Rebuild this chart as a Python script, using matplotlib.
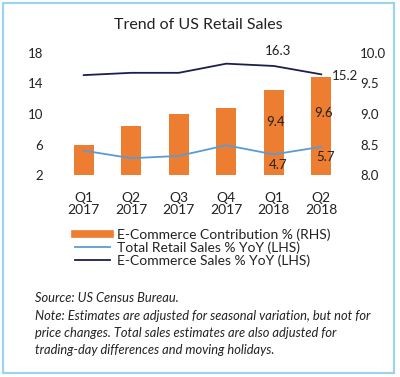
import matplotlib
matplotlib.use("Agg")
import matplotlib.pyplot as plt
from matplotlib.lines import Line2D
from matplotlib.patches import Rectangle

plt.rcParams['font.family'] = ['Lato', 'DejaVu Sans']

# data
quarters = ['Q1\n2017', 'Q2\n2017', 'Q3\n2017', 'Q4\n2017', 'Q1\n2018', 'Q2\n2018']
ecom_share = [8.5, 8.8, 9.0, 9.1, 9.4, 9.6]        # RHS, bars
retail_yoy = [5.2, 4.2, 4.5, 5.9, 4.7, 5.7]        # LHS
ecom_yoy = [15.1, 15.4, 15.4, 16.6, 16.3, 15.2]    # LHS
left_ticks = [2, 6, 10, 14, 18]
right_ticks = [8.0, 8.5, 9.0, 9.5, 10.0]

txt = '#222222'
fig = plt.figure(figsize=(4.0, 3.77), dpi=100)

# light blue frame round the whole thing
fig.add_artist(Rectangle((2.5/400, 4.5/377), 391.5/400, 370/377, transform=fig.transFigure,
                         fill=False, ec='#9dd3ef', lw=1.6))

ax = fig.add_axes([60/400, 1-175/377, 285/400, 122/377])
ax2 = ax.twinx()
ax.set_zorder(ax2.get_zorder() + 1)
ax.patch.set_visible(False)
ax2.patch.set_facecolor('#fbe3d4')

x = list(range(len(quarters)))
ax2.bar(x, ecom_share, width=0.42, color='#ed7d31', zorder=2)
ax.plot(x, retail_yoy, color='#5b9bd5', lw=1.3)
ax.plot(x, ecom_yoy, color='#1c1f4d', lw=1.3)

ax.set_xlim(-0.5, 5.5)
ax.set_ylim(2, 18)
ax.set_yticks(left_ticks)
ax2.set_ylim(8.0, 10.0)
ax2.set_yticks(right_ticks)
ax2.set_yticklabels(['%.1f' % v for v in right_ticks])
ax.set_xticks(x)
ax.set_xticklabels(quarters, linespacing=1.05)

for a in (ax, ax2):
    for s in a.spines.values():
        s.set_visible(False)
    a.tick_params(length=0, labelsize=9.5, colors=txt)
ax.tick_params(axis='y', pad=12)
ax2.tick_params(axis='y', pad=11)
ax.tick_params(axis='x', pad=12, labelsize=10)

# data labels
lab = dict(fontsize=9.5, color=txt, ha='center', va='center', textcoords='offset pixels')
ax.annotate('16.3', (4, ecom_yoy[4]), xytext=(4, 15), **lab)
ax.annotate('15.2', (5, ecom_yoy[5]), xytext=(24, -2), **lab)
ax.annotate('4.7', (4, retail_yoy[4]), xytext=(4, -11), **lab)
ax.annotate('5.7', (5, retail_yoy[5]), xytext=(4, -10), **lab)
ax2.annotate('9.4', (4, ecom_share[4]), xytext=(2, -32), **lab)
ax2.annotate('9.6', (5, ecom_share[5]), xytext=(2, -36), **lab)

fig.text(198/400, 1-25/377, 'Trend of US Retail Sales', ha='center', va='center',
         fontsize=11.5, color=txt)

handles = [Line2D([], [], color='#ed7d31', lw=5.5),
           Line2D([], [], color='#5b9bd5', lw=1.3),
           Line2D([], [], color='#1c1f4d', lw=1.3)]
labels = ['E-Commerce Contribution % (RHS)', 'Total Retail Sales % YoY (LHS)',
          'E-Commerce Sales % YoY (LHS)']
leg = fig.legend(handles, labels, loc='upper left', bbox_to_anchor=(75/400, 1-228/377),
                 frameon=False, fontsize=10, handlelength=2.5, handletextpad=0.55,
                 labelspacing=0.04, borderaxespad=0, borderpad=0)
for t in leg.get_texts():
    t.set_color(txt)

notes = ['Source: US Census Bureau.',
         'Note: Estimates are adjusted for seasonal variation, but not for',
         'price changes. Total sales estimates are also adjusted for',
         'trading-day differences and moving holidays.']
for i, line in enumerate(notes):
    fig.text(35/400, 1-(298+17.5*i)/377, line, ha='left', va='center',
             fontsize=9.3, style='italic', color=txt)

fig.savefig('out.png', dpi=100)
